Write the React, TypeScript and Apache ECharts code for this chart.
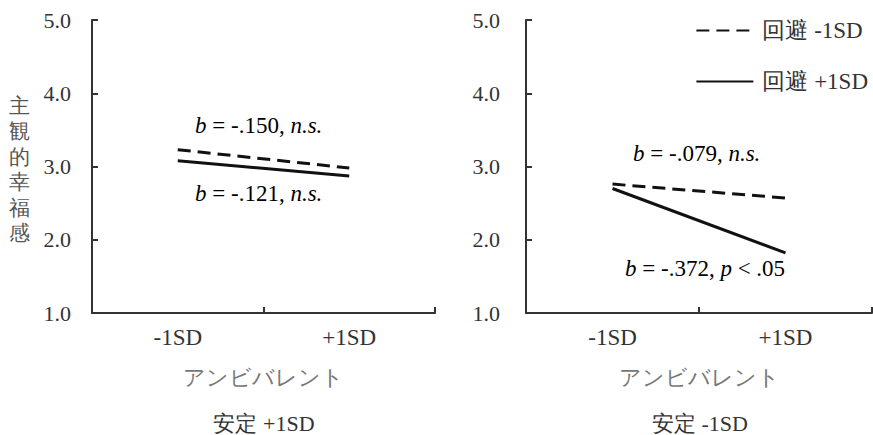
import React, { useEffect, useRef } from "react";
import * as echarts from "echarts";

const categories = ["-1SD", "+1SD"];
const seriesNames = ["回避 -1SD", "回避 +1SD"];
// 安定 +1SD panel
const stableHighAvoidLow = [3.23, 2.98];
const stableHighAvoidHigh = [3.08, 2.87];
// 安定 -1SD panel
const stableLowAvoidLow = [2.76, 2.57];
const stableLowAvoidHigh = [2.7, 1.82];
const panelTitles = ["安定 +1SD", "安定 -1SD"];
const xAxisName = "アンビバレント";
const yAxisName = "主観的幸福感";
const annotations = [
  ["-.150", "n.s."],
  ["-.121", "n.s."],
  ["-.079", "n.s."],
  ["-.372", "p", " < .05"],
];

const SERIF = "Liberation Serif";

export default function App() {
  const ref = useRef<HTMLDivElement>(null);
  useEffect(() => {
    const chart = echarts.init(ref.current!, null, { renderer: "svg" });
    const grids = [
      { left: 92, top: 20, width: 343, height: 293 },
      { left: 526, top: 20, width: 346, height: 293 },
    ];
    const axisLine = { show: true, lineStyle: { color: "#333", width: 2 } };
    const xAxes = grids.map((_, i) => ({
      type: "category",
      gridIndex: i,
      data: categories,
      boundaryGap: true,
      axisLine,
      axisTick: { show: true, inside: true, length: 6, lineStyle: { color: "#333", width: 2 } },
      axisLabel: { color: "#333", fontFamily: SERIF, fontSize: 23, margin: 13 },
      name: xAxisName,
      nameLocation: "middle",
      nameGap: 53,
      nameTextStyle: { color: "#777", fontFamily: SERIF, fontSize: 22 },
      splitLine: { show: false },
    }));
    const yAxes = grids.map((_, i) => ({
      type: "value",
      gridIndex: i,
      min: 1,
      max: 5,
      interval: 1,
      axisLine,
      axisTick: { show: true, inside: true, length: 6, lineStyle: { color: "#333", width: 2 } },
      axisLabel: {
        color: "#333",
        fontFamily: SERIF,
        fontSize: 22,
        margin: i === 0 ? 21 : 26,
        formatter: (v: number) => v.toFixed(1),
      },
      splitLine: { show: false },
    }));
    const mk = (name: string, data: number[], idx: number, dashed: boolean) => ({
      type: "line",
      name,
      xAxisIndex: idx,
      yAxisIndex: idx,
      data,
      symbol: "none",
      lineStyle: { color: "#111", width: 3, type: dashed ? [13, 7] : "solid" },
      itemStyle: { color: "#111" },
    });
    const rich = {
      i: { fontFamily: SERIF, fontSize: 23, fontStyle: "italic", color: "#333" },
      n: { fontFamily: SERIF, fontSize: 23, color: "#333" },
    };
    const ann = (x: number, y: number, a: string[]) => ({
      type: "text",
      left: x,
      top: y,
      style: {
        text:
          a.length === 2
            ? `{i|b}{n| = ${a[0]}, }{i|${a[1]}}`
            : `{i|b}{n| = ${a[0]}, }{i|${a[1]}}{n|${a[2]}}`,
        fontFamily: SERIF,
        fontSize: 23,
        rich,
      },
    });
    chart.setOption({
      animation: false,
      textStyle: { fontFamily: SERIF },
      grid: grids,
      xAxis: xAxes,
      yAxis: yAxes,
      legend: {
        orient: "vertical",
        right: 0,
        top: 14,
        itemWidth: 57,
        itemHeight: 14,
        itemGap: 28,
        data: seriesNames,
        itemStyle: { opacity: 0 },
        textStyle: { fontFamily: SERIF, fontSize: 23, color: "#333", padding: [0, 0, 0, 4] },
      },
      series: [
        mk(seriesNames[0], stableHighAvoidLow, 0, true),
        mk(seriesNames[1], stableHighAvoidHigh, 0, false),
        mk(seriesNames[0], stableLowAvoidLow, 1, true),
        mk(seriesNames[1], stableLowAvoidHigh, 1, false),
      ],
      graphic: [
        ann(195, 114, annotations[0]),
        ann(195, 182, annotations[1]),
        ann(633, 142, annotations[2]),
        ann(625, 257, annotations[3]),
        {
          type: "text",
          left: 9,
          top: 93,
          style: {
            text: yAxisName.split("").join("\n"),
            fontFamily: SERIF,
            fontSize: 21,
            lineHeight: 25.5,
            fill: "#555",
          },
        },
        {
          type: "text",
          x: 264,
          y: 423,
          style: { text: panelTitles[0], fontFamily: SERIF, fontSize: 22, fill: "#333", align: "center", verticalAlign: "middle" },
        },
        {
          type: "text",
          x: 700,
          y: 423,
          style: { text: panelTitles[1], fontFamily: SERIF, fontSize: 22, fill: "#333", align: "center", verticalAlign: "middle" },
        },
      ],
    });
    return () => chart.dispose();
  }, []);
  return (
    <div
      ref={ref}
      style={{ position: "fixed", left: 0, top: 0, width: 873, height: 435, background: "#fff" }}
    />
  );
}
